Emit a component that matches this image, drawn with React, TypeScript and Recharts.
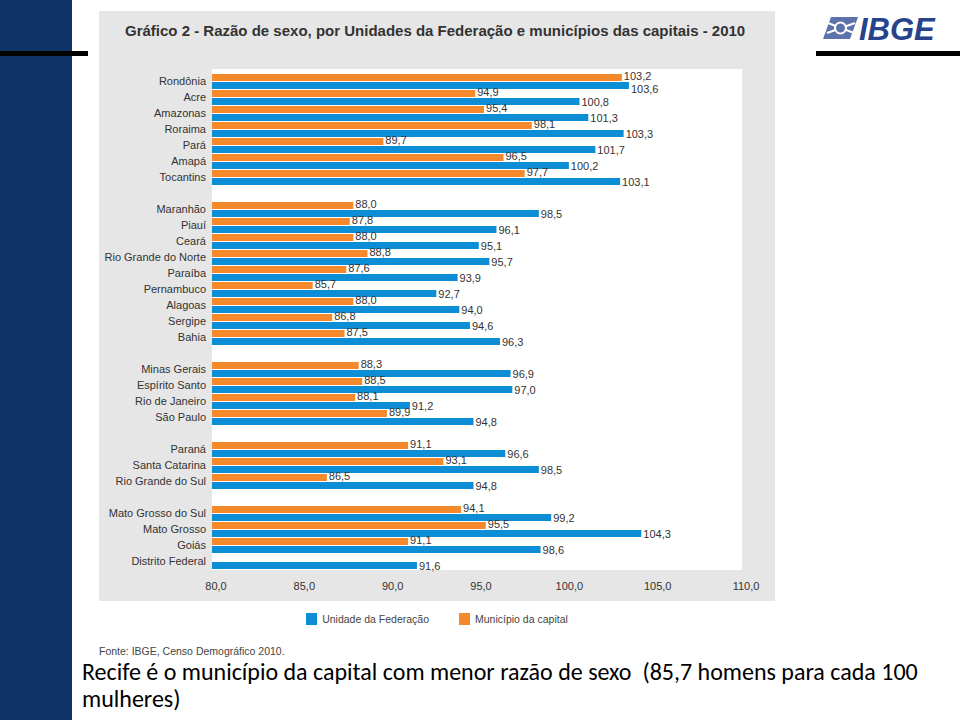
import React from "react"
import { BarChart, Bar, XAxis, YAxis, CartesianGrid, Legend, LabelList } from "recharts"

// states grouped by region, "" = blank spacer row between regions
const states = [
  "Rondônia", "Acre", "Amazonas", "Roraima", "Pará", "Amapá", "Tocantins",
  "",
  "Maranhão", "Piauí", "Ceará", "Rio Grande do Norte", "Paraíba", "Pernambuco", "Alagoas", "Sergipe", "Bahia",
  "",
  "Minas Gerais", "Espírito Santo", "Rio de Janeiro", "São Paulo",
  "",
  "Paraná", "Santa Catarina", "Rio Grande do Sul",
  "",
  "Mato Grosso do Sul", "Mato Grosso", "Goiás", "Distrito Federal",
]

// Unidade da Federação
const ufValues = [
  103.6, 100.8, 101.3, 103.3, 101.7, 100.2, 103.1,
  null,
  98.5, 96.1, 95.1, 95.7, 93.9, 92.7, 94.0, 94.6, 96.3,
  null,
  96.9, 97.0, 91.2, 94.8,
  null,
  96.6, 98.5, 94.8,
  null,
  99.2, 104.3, 98.6, 91.6,
]

// Município da capital
const capitalValues = [
  103.2, 94.9, 95.4, 98.1, 89.7, 96.5, 97.7,
  null,
  88.0, 87.8, 88.0, 88.8, 87.6, 85.7, 88.0, 86.8, 87.5,
  null,
  88.3, 88.5, 88.1, 89.9,
  null,
  91.1, 93.1, 86.5,
  null,
  94.1, 95.5, 91.1, null,
]

const xTicks = [80, 85, 90, 95, 100, 105, 110]

const data = states.map((name, i) => ({ name, uf: ufValues[i], capital: capitalValues[i] }))

const BLUE = "#0b8ed6"
const ORANGE = "#f3892a"
const FONT = "'Liberation Sans', Arial, sans-serif"

const fmt = (v: number) => v.toFixed(1).replace(".", ",")

const valueLabel = (series: "uf" | "capital") => (props: any) => {
  const { x, y, width, height, value, index } = props
  if (value == null) return null
  let dy = series === "capital" ? -2 : 0
  // push the blue label down when it would collide with the orange one
  const other = capitalValues[index]
  if (series === "uf" && other != null && Math.abs(Number(value) - other) < 1) dy = 3
  return (
    <text
      x={Number(x) + Number(width) + 2}
      y={Number(y) + Number(height) / 2 + dy}
      dominantBaseline="central"
      fontSize={11}
      fontFamily={FONT}
      fill="#333"
    >
      {fmt(Number(value))}
    </text>
  )
}

const StateTick = (props: any) => {
  const { x, y, payload } = props
  return (
    <text x={x} y={y} textAnchor="end" dominantBaseline="central" fontSize={11} fontFamily={FONT} fill="#333">
      {payload.value}
    </text>
  )
}

const LegendContent = (props: any) => {
  const items = [...(props.payload || [])].reverse()
  return (
    <div style={{ height: 20, display: "flex", justifyContent: "center", alignItems: "center", fontFamily: FONT, fontSize: 10.5, color: "#444" }}>
      {items.map((it: any, i: number) => (
        <div key={it.value} style={{ display: "flex", alignItems: "center", marginLeft: i ? 30 : 0 }}>
          <span style={{ width: 11, height: 12, background: it.color, display: "inline-block", marginRight: 5 }} />
          {it.value}
        </div>
      ))}
    </div>
  )
}

function IbgeLogo() {
  return (
    <svg width={142} height={44} style={{ position: "absolute", left: 818, top: 5 }}>
      <polygon points="5,34 13,12 40,12 32,34" fill="#5b72ab" />
      <line x1="10" y1="18" x2="36" y2="28" stroke="#fff" strokeWidth={2} />
      <line x1="9" y1="28" x2="37" y2="18" stroke="#fff" strokeWidth={2} />
      <circle cx={22.5} cy={23} r={5.5} fill="#5b72ab" stroke="#fff" strokeWidth={2} />
      <text x={41} y={35} fontFamily={FONT} fontWeight="bold" fontStyle="italic" fontSize={31} fill="#26438b">
        IBGE
      </text>
    </svg>
  )
}

export default function App() {
  return (
    <div style={{ position: "absolute", left: 0, top: 0, width: 960, height: 720, overflow: "hidden", background: "#fff" }}>
      <div style={{ position: "absolute", left: 0, top: 0, width: 72, height: 720, background: "#0e3467" }} />
      <div style={{ position: "absolute", left: 0, top: 51, width: 88, height: 5, background: "#000" }} />
      <div style={{ position: "absolute", left: 816, top: 51, width: 144, height: 5, background: "#000" }} />
      <IbgeLogo />

      <div style={{ position: "absolute", left: 99, top: 11, width: 676, height: 590, background: "#e6e6e6" }} />
      <div
        style={{
          position: "absolute",
          left: 125,
          top: 23,
          fontFamily: FONT,
          fontWeight: "bold",
          fontSize: 15,
          lineHeight: "16px",
          color: "#333",
          whiteSpace: "nowrap",
        }}
      >
        Gráfico 2 - Razão de sexo, por Unidades da Federação e municípios das capitais - 2010
      </div>

      <div style={{ position: "absolute", left: 99, top: 11 }}>
        <BarChart
          width={676}
          height={630}
          data={data}
          layout="vertical"
          margin={{ top: 58, right: 33, left: 0, bottom: 12 }}
          barCategoryGap={1}
          barGap={1}
        >
          <CartesianGrid fill="#ffffff" fillOpacity={1} horizontal={false} vertical={false} />
          <XAxis
            type="number"
            domain={[80, 110]}
            ticks={xTicks}
            tickFormatter={fmt}
            axisLine={false}
            tickLine={false}
            tickSize={0}
            tickMargin={12}
            height={39}
            tick={{ fontSize: 11, fill: "#333", fontFamily: FONT, dx: 4 }}
          />
          <YAxis
            type="category"
            dataKey="name"
            width={113}
            interval={0}
            padding={{ top: 4, bottom: 1 }}
            axisLine={false}
            tickLine={false}
            tickSize={0}
            tickMargin={6}
            tick={<StateTick />}
          />
          <Legend verticalAlign="bottom" content={<LegendContent />} wrapperStyle={{ left: 0, width: 676 }} />
          <Bar dataKey="capital" name="Município da capital" fill={ORANGE} isAnimationActive={false}>
            <LabelList dataKey="capital" content={valueLabel("capital")} />
          </Bar>
          <Bar dataKey="uf" name="Unidade da Federação" fill={BLUE} isAnimationActive={false}>
            <LabelList dataKey="uf" content={valueLabel("uf")} />
          </Bar>
        </BarChart>
      </div>

      <div style={{ position: "absolute", left: 99, top: 645, fontFamily: FONT, fontSize: 10.5, color: "#444", whiteSpace: "nowrap" }}>
        Fonte: IBGE, Censo Demográfico 2010.
      </div>

      <div
        style={{
          position: "absolute",
          left: 82,
          top: 658,
          fontFamily: "Carlito, Calibri, 'Liberation Sans Narrow', 'Open Sans', sans-serif",
          fontSize: 24,
          lineHeight: "27px",
          color: "#000",
          whiteSpace: "pre",
        }}
      >
        <div>Recife é o município da capital com menor razão de sexo  (85,7 homens para cada 100</div>
        <div>mulheres)</div>
      </div>
    </div>
  )
}
